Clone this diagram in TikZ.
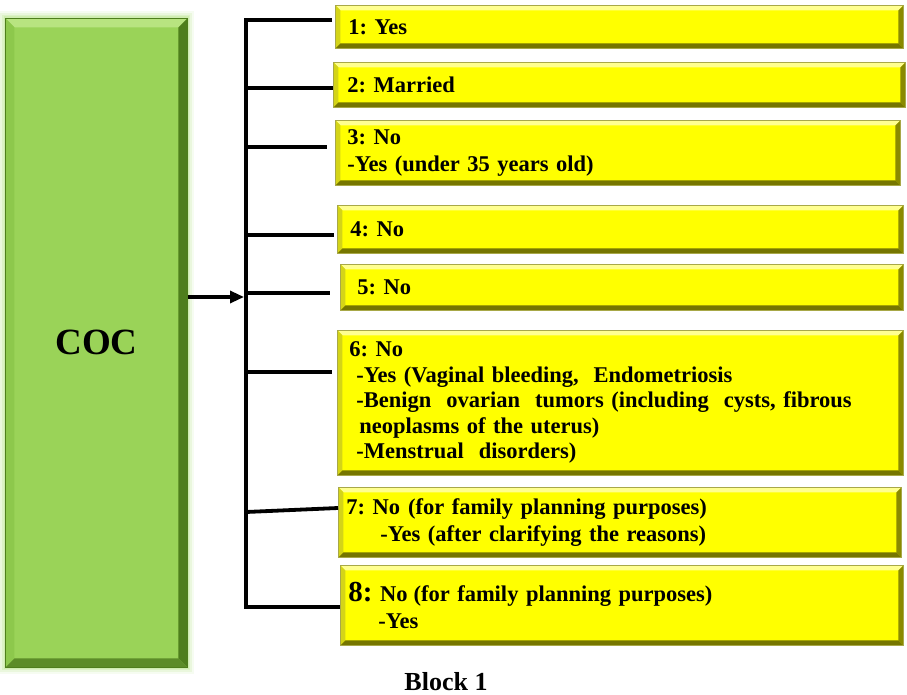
\documentclass[tikz,border=0pt]{standalone}
\usepackage{fontspec}
\setmainfont{Liberation Serif}
\usetikzlibrary{calc,arrows.meta}
\frenchspacing
\definecolor{yfill}{HTML}{FFFF00}
\definecolor{yedge}{HTML}{A8A848}
\definecolor{ytop}{HTML}{FFFF90}
\definecolor{yleft}{HTML}{D4D418}
\definecolor{yright}{HTML}{8A8A00}
\definecolor{ybot}{HTML}{767600}
\definecolor{gfill}{HTML}{9AD358}
\definecolor{gtop}{HTML}{B8E480}
\definecolor{gleft}{HTML}{8DC84C}
\definecolor{gright}{HTML}{4E7E1C}
\definecolor{gbot}{HTML}{5C8C28}
\definecolor{gglow}{HTML}{C9EBA4}
\tikzset{
  bevel/.style n args={5}{path picture={
    \coordinate (@nw) at (path picture bounding box.north west);
    \coordinate (@ne) at (path picture bounding box.north east);
    \coordinate (@sw) at (path picture bounding box.south west);
    \coordinate (@se) at (path picture bounding box.south east);
    \fill[#2] (@nw) -- (@ne) -- ([xshift=-#1,yshift=-#1]@ne) -- ([xshift=#1,yshift=-#1]@nw) -- cycle;
    \fill[#3] (@nw) -- (@sw) -- ([xshift=#1,yshift=#1]@sw) -- ([xshift=#1,yshift=-#1]@nw) -- cycle;
    \fill[#4] (@ne) -- (@se) -- ([xshift=-#1,yshift=#1]@se) -- ([xshift=-#1,yshift=-#1]@ne) -- cycle;
    \fill[#5] (@sw) -- (@se) -- ([xshift=-#1,yshift=#1]@se) -- ([xshift=#1,yshift=#1]@sw) -- cycle;
  }},
  ybox/.style={anchor=north west, inner xsep=13pt, inner ysep=0pt,
    fill=yfill, draw=yedge, line width=0.8pt, align=left,
    font=\bfseries\fontsize{22.5}{25.5}\selectfont,
    bevel={5pt}{ytop}{yleft}{yright}{ybot}},
  gbox/.style={anchor=north west, inner sep=0pt, fill=gfill, draw=gright,
    line width=0.8pt, font=\bfseries\fontsize{37}{40}\selectfont,
    bevel={9pt}{gtop}{gleft}{gright}{gbot}},
  conn/.style={line width=3.8pt, line cap=butt, line join=miter},
}
\begin{document}
\begin{tikzpicture}[x=1pt,y=-1pt]
\useasboundingbox[fill=white] (0,0) rectangle (907,695);
% glow around green box
\foreach \g/\o in {7/0.15,5/0.25,3/0.4,1.5/0.6}{
  \fill[gglow,opacity=\o] (5-\g,18-\g) rectangle (187+\g,667+\g);
}
\node[gbox, minimum width=182pt, minimum height=649pt] (coc) at (5,18) {COC};

\node[ybox, text width=542pt, minimum height=43pt] (b1) at (335,5) {1: Yes};
\node[ybox, text width=544pt, minimum height=45pt, inner xsep=14pt] (b2) at (333,62) {2: Married};
\node[ybox, text width=541pt, minimum height=65pt, inner xsep=12pt] (b3) at (335,120) {3: No\\[1pt]-Yes (under 35 years old)};
\node[ybox, text width=540pt, minimum height=48pt] (b4) at (337,205) {4: No};
\node[ybox, text width=529pt, minimum height=46pt, inner xsep=17pt] (b5) at (340,264) {5: No};
\node[ybox, text width=542pt, minimum height=145pt, inner xsep=12pt] (b6) at (337,330)
  {6: No\\
   \hspace*{7pt}-Yes (Vaginal bleeding,\ \ Endometriosis\\
   \hspace*{7pt}-Benign\ \ ovarian\ \ tumors\ (including\ \ cysts,\ fibrous\\
   \hspace*{10pt}neoplasms of the uterus)\\
   \hspace*{7pt}-Menstrual\ \ disorders)};
\node[ybox, text width=547pt, minimum height=70pt, inner xsep=8pt] (b7) at (338,487)
  {7: No\hspace{8pt}(for family planning purposes)\\[1pt]
   \hspace*{34pt}-Yes (after clarifying the reasons)};
\node[ybox, text width=547pt, minimum height=80pt, inner xsep=8pt] (b8) at (340,565)
  {{\fontsize{29}{25.5}\selectfont 8:} No\hspace{6pt}(for family planning purposes)\\[1pt]
   \hspace*{30pt}-Yes};

\node[font=\bfseries\fontsize{26}{30}\selectfont, inner sep=0pt] (cap) at (446,682) {Block 1};

% trunk and branches
\coordinate (t1) at (246,20);
\coordinate (t2) at (246,88);
\coordinate (t3) at (246,147);
\coordinate (t4) at (246,235);
\coordinate (t5) at (246,293);
\coordinate (t6) at (246,372);
\coordinate (t7) at (246,512);
\coordinate (t8) at (246,607);
\coordinate (ta) at (244,297);
\draw[conn] ([xshift=-3pt]t1 -| b1.west) -- (t1) -- (t8) -- (t8 -| b8.west);
\draw[conn] (t2) -- (t2 -| b2.west);
\draw[conn, shorten >=8pt] (t3) -- (t3 -| b3.west);
\draw[conn, shorten >=3pt] (t4) -- (t4 -| b4.west);
\draw[conn, shorten >=10pt] (t5) -- (t5 -| b5.west);
\draw[conn, shorten >=5pt] (t6) -- (t6 -| b6.west);
\draw[conn] (t7) -- (b7.west |- 0,508);
\draw[line width=3.2pt, -{Triangle[length=14pt,width=12pt]}] (coc.east |- ta) -- (ta);
\end{tikzpicture}
\end{document}
